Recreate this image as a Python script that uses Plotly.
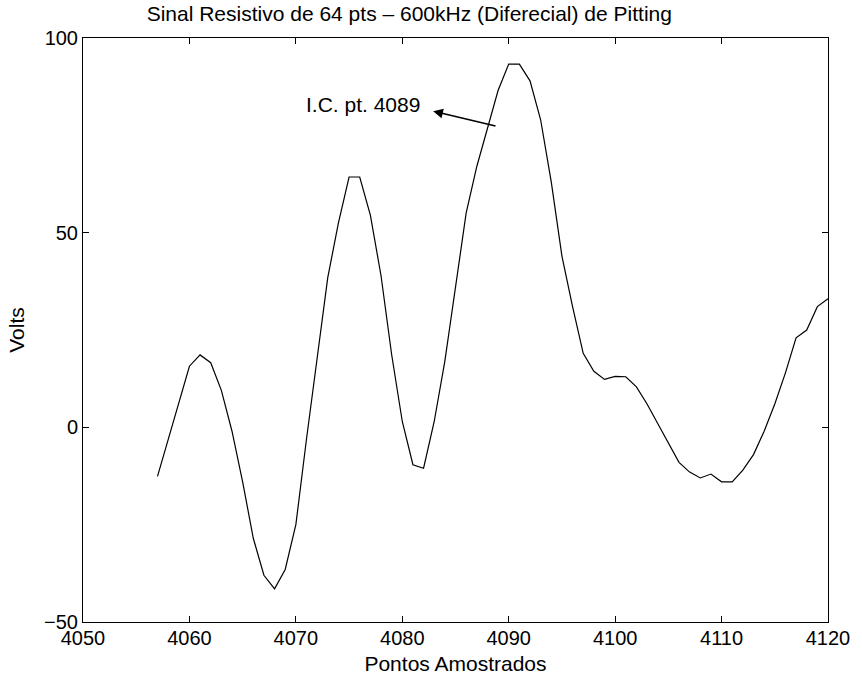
import plotly.graph_objects as go

# Sampled points (4057 .. 4120) of the 600 kHz differential resistive signal
pontos = list(range(4057, 4121))
volts = [
    -12.6, -3.0, 6.8, 15.7, 18.6, 16.6, 9.5, -1.0, -14.0, -28.5,
    -38.0, -41.5, -36.5, -25.0, -3.0, 18.0, 38.5, 52.5, 64.3, 64.3,
    54.5, 39.0, 18.7, 1.5, -9.6, -10.5, 1.5, 17.0, 36.0, 55.0,
    67.0, 77.0, 86.5, 93.3, 93.3, 89.0, 79.0, 63.0, 44.0, 31.0,
    19.0, 14.4, 12.3, 13.1, 13.0, 10.4, 6.0, 1.0, -4.0, -9.0,
    -11.5, -13.0, -12.0, -14.0, -14.0, -11.0, -7.0, -1.0, 6.0, 14.0,
    23.0, 25.0, 31.0, 33.0,
]

x_ticks = [4050, 4060, 4070, 4080, 4090, 4100, 4110, 4120]
y_ticks = [-50, 0, 50, 100]

titulo = "Sinal Resistivo de 64 pts – 600kHz (Diferecial) de Pitting"
rotulo_x = "Pontos Amostrados"
rotulo_y = "Volts"
nota = "I.C. pt. 4089"

FONT = "Liberation Sans, Arial, Helvetica, sans-serif"

fig = go.Figure()
fig.add_trace(go.Scatter(
    x=pontos, y=volts, mode="lines",
    line=dict(color="black", width=1.2),
    showlegend=False, hoverinfo="skip",
))

axis_common = dict(
    showgrid=False, zeroline=False,
    showline=True, linecolor="black", linewidth=1,
    mirror="ticks", ticks="inside", ticklen=6, tickwidth=1, tickcolor="black",
    tickfont=dict(family=FONT, size=20, color="black"),
)

fig.update_xaxes(
    range=[4050, 4120], tickvals=x_ticks, ticklabelstandoff=-2,
    title=dict(text=rotulo_x, font=dict(family=FONT, size=21, color="black"), standoff=8),
    **axis_common,
)
fig.update_yaxes(
    range=[-50, 100], tickvals=y_ticks,
    title=dict(text=rotulo_y, font=dict(family=FONT, size=21, color="black"), standoff=13),
    **axis_common,
)

# Label text and the arrow that ties it to the rising flank near point 4089
fig.add_annotation(
    x=4076.3, y=83.0, xref="x", yref="y", text=nota, showarrow=False,
    font=dict(family=FONT, size=21, color="black"),
)
fig.add_annotation(
    x=4082.9, y=81.2, xref="x", yref="y",
    ax=4088.9, ay=77.3, axref="x", ayref="y",
    text="", showarrow=True, arrowhead=2, arrowsize=1.3, arrowwidth=1.5,
    arrowcolor="black",
)

fig.update_layout(
    width=862, height=685,
    margin=dict(l=83, r=30, t=38, b=63),
    paper_bgcolor="white", plot_bgcolor="white",
    title=dict(
        text=titulo, x=0.438, xref="paper", xanchor="center",
        y=1, yref="paper", yanchor="bottom", pad=dict(b=17),
        font=dict(family=FONT, size=21, color="black"),
    ),
)

fig.write_html("out.html")
